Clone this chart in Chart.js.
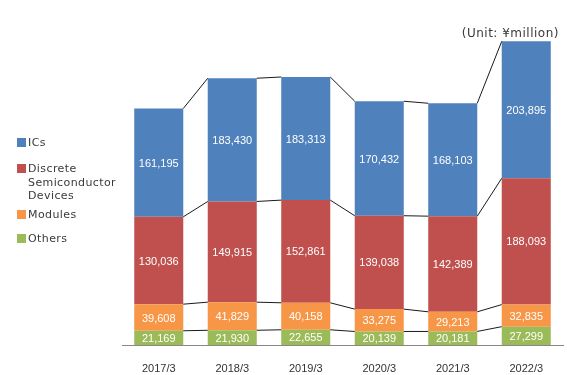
<!DOCTYPE html>
<html>
<head>
<meta charset="utf-8">
<script src="https://cdn.jsdelivr.net/npm/chart.js@4/dist/chart.umd.min.js"></script>
<style>
  html, body { margin: 0; padding: 0; background: #fff; }
  #wrap { position: relative; width: 567px; height: 375px; }
  #legend { position: absolute; left: 0; top: 0; font-family: "DejaVu Sans", sans-serif; font-size: 11px; letter-spacing: 0.4px; color: #3a3a3a; }
  .item { position: absolute; left: 17px; white-space: nowrap; line-height: 13.5px; }
  .sw { position: absolute; left: 0; top: 2px; width: 9px; height: 9px; }
  .txt { position: absolute; left: 11px; top: 0; }
  #unit { position: absolute; right: 8px; top: 26px; font-family: "DejaVu Sans", sans-serif; font-size: 12px; letter-spacing: 0.5px; color: #3a3a3a; white-space: nowrap; }
</style>
</head>
<body>
<div id="wrap">
  <canvas id="chart" width="567" height="375"></canvas>
  <div id="legend"></div>
  <div id="unit">(Unit: ¥million)</div>
</div>
<script>
// data
const years = ["2017/3", "2018/3", "2019/3", "2020/3", "2021/3", "2022/3"];
const others = [21169, 21930, 22655, 20139, 20181, 27299];
const modules = [39608, 41829, 40158, 33275, 29213, 32835];
const discrete = [130036, 149915, 152861, 139038, 142389, 188093];
const ics = [161195, 183430, 183313, 170432, 168103, 203895];

const colors = {
  ics: "#4F81BD",
  discrete: "#C0504D",
  modules: "#F79646",
  others: "#9BBB59"
};

// legend (top to bottom)
const legendItems = [
  { label: ["ICs"], color: colors.ics, top: 136 },
  { label: ["Discrete", "Semiconductor", "Devices"], color: colors.discrete, top: 162 },
  { label: ["Modules"], color: colors.modules, top: 208 },
  { label: ["Others"], color: colors.others, top: 232 }
];
const legend = document.getElementById("legend");
legendItems.forEach((it) => {
  const d = document.createElement("div");
  d.className = "item";
  d.style.top = it.top + "px";
  d.innerHTML = '<span class="sw" style="background:' + it.color + '"></span><span class="txt">' + it.label.join("<br>") + "</span>";
  legend.appendChild(d);
});

// numbers inside segments + connector lines between bars
const stackExtras = {
  id: "stackExtras",
  afterDatasetsDraw(chart) {
    const { ctx, scales } = chart;
    const n = years.length;
    const metas = chart.data.datasets.map((_, i) => chart.getDatasetMeta(i));

    // connectors
    ctx.save();
    ctx.strokeStyle = "#1a1a1a";
    ctx.lineWidth = 1;
    for (let i = 0; i < n - 1; i++) {
      let cumA = 0, cumB = 0;
      chart.data.datasets.forEach((ds, k) => {
        cumA += ds.data[i];
        cumB += ds.data[i + 1];
        const a = metas[k].data[i];
        const b = metas[k].data[i + 1];
        const x1 = a.x + a.width / 2;
        const x2 = b.x - b.width / 2;
        ctx.beginPath();
        ctx.moveTo(x1, scales.y.getPixelForValue(cumA));
        ctx.lineTo(x2, scales.y.getPixelForValue(cumB));
        ctx.stroke();
      });
    }

    // value labels
    ctx.fillStyle = "#fff";
    ctx.font = '11px "Liberation Sans", sans-serif';
    ctx.textAlign = "center";
    ctx.textBaseline = "middle";
    metas.forEach((meta, k) => {
      meta.data.forEach((bar, i) => {
        const v = chart.data.datasets[k].data[i];
        ctx.fillText(v.toLocaleString("en-US"), bar.x, (bar.y + bar.base) / 2 + 1);
      });
    });
    ctx.restore();
  }
};

new Chart(document.getElementById("chart"), {
  type: "bar",
  data: {
    labels: years,
    datasets: [
      { label: "Others", data: others, backgroundColor: colors.others },
      { label: "Modules", data: modules, backgroundColor: colors.modules },
      { label: "Discrete Semiconductor Devices", data: discrete, backgroundColor: colors.discrete },
      { label: "ICs", data: ics, backgroundColor: colors.ics }
    ]
  },
  options: {
    responsive: false,
    animation: false,
    datasets: { bar: { barPercentage: 0.667, categoryPercentage: 1, borderWidth: 0 } },
    layout: { padding: { left: 122, right: 4, top: 36, bottom: 0 } },
    plugins: {
      legend: { display: false },
      tooltip: { enabled: false }
    },
    scales: {
      x: {
        stacked: true,
        grid: { display: false, drawTicks: false },
        border: { display: true, color: "#888", width: 1 },
        ticks: {
          padding: 17,
          color: "#333",
          font: { family: "Liberation Sans", size: 11 }
        },
        afterFit(scale) { scale.height = 30; }
      },
      y: {
        stacked: true,
        display: false,
        min: 0,
        max: 460000
      }
    }
  },
  plugins: [stackExtras]
});
</script>
</body>
</html>
